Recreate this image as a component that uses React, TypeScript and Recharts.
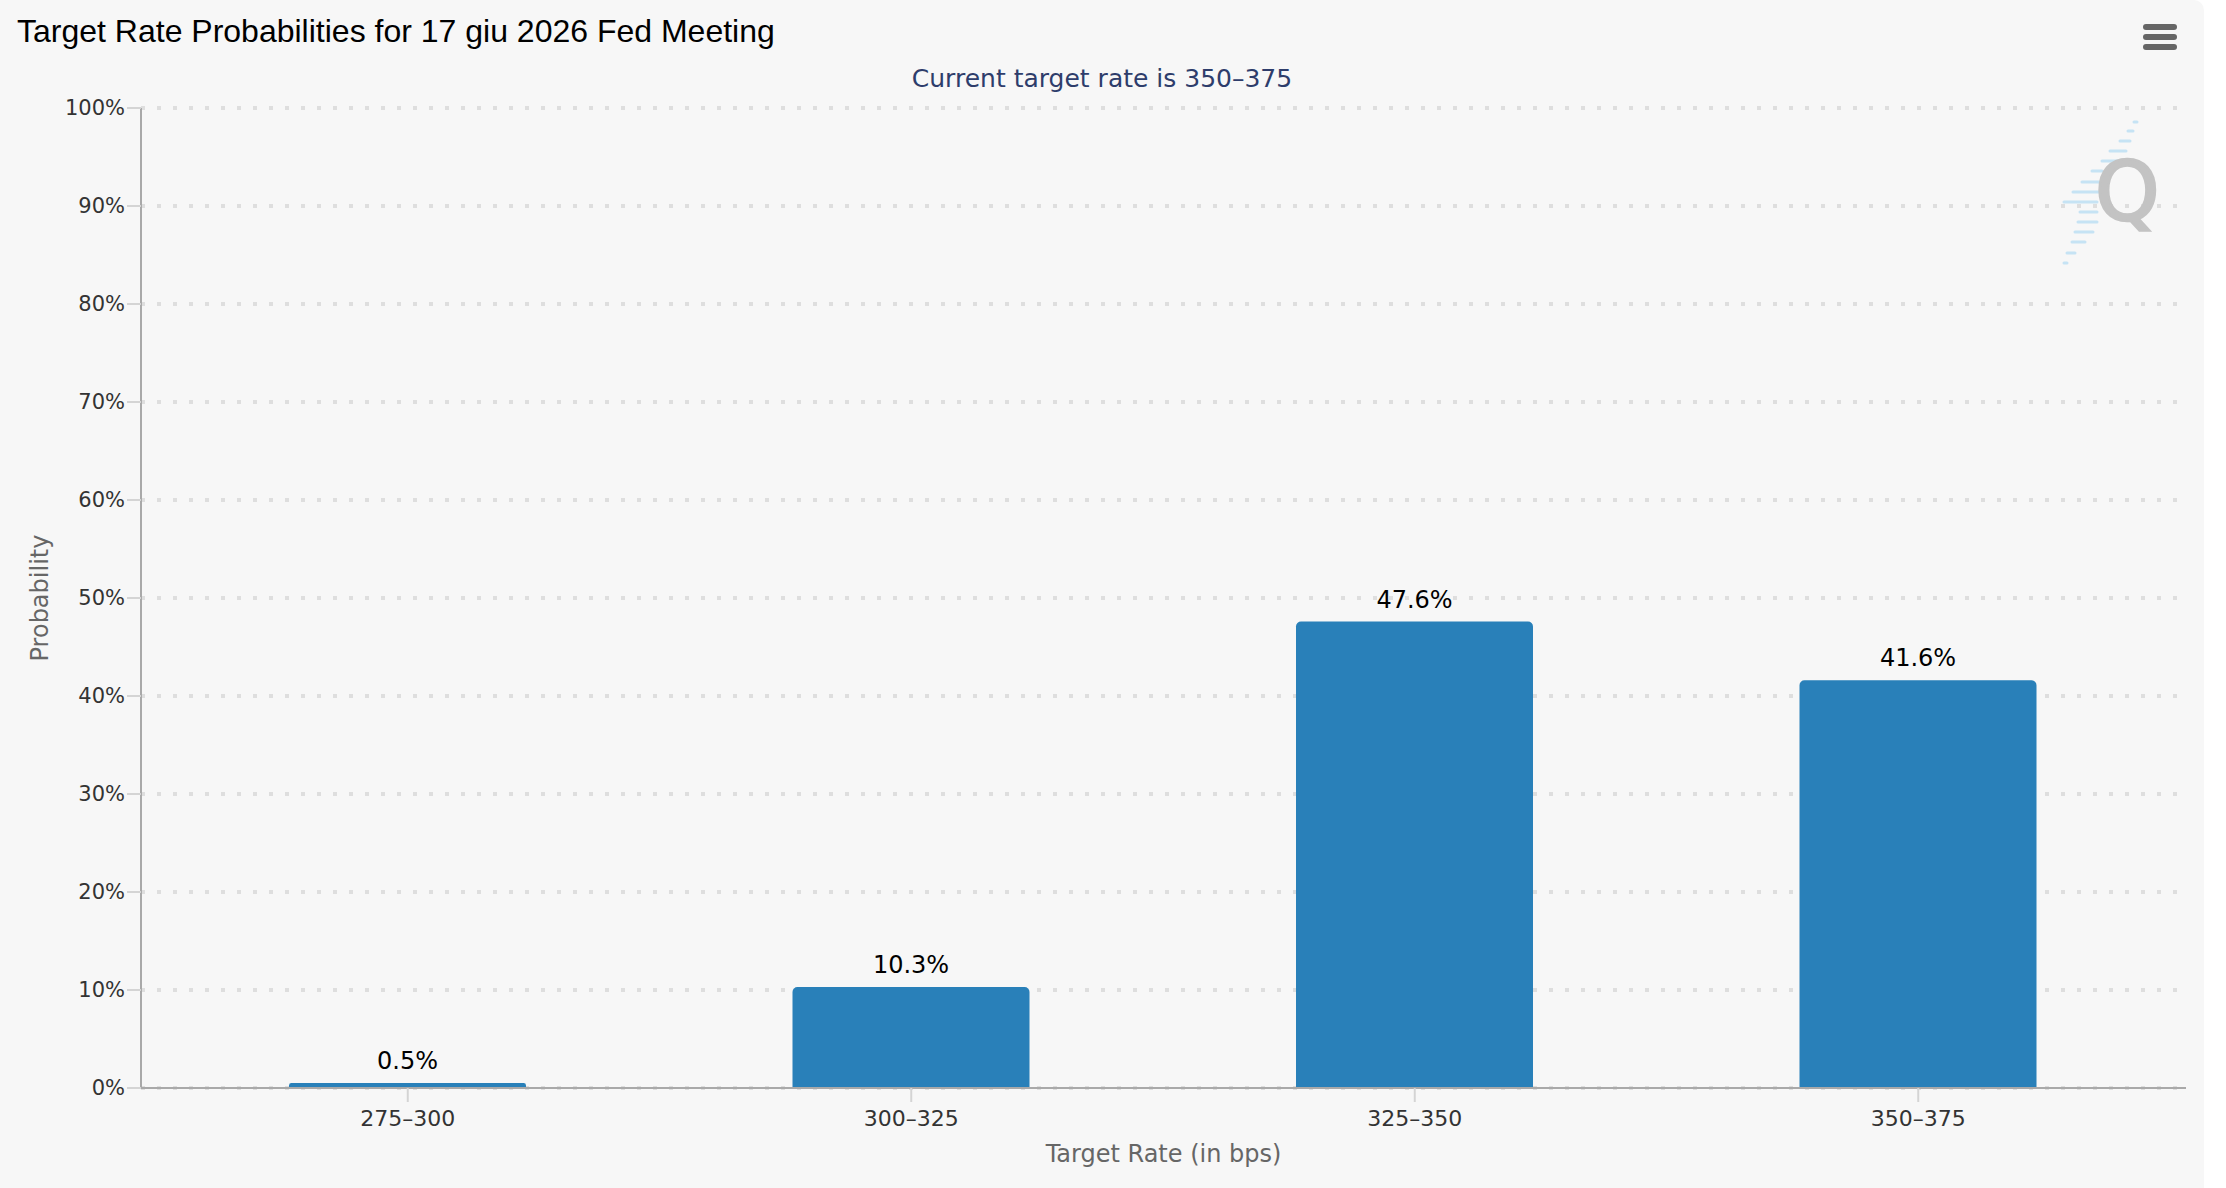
import React from 'react';
import { BarChart, Bar, XAxis, YAxis, CartesianGrid, LabelList } from 'recharts';

// ---- data ----
const categories = ['275–300', '300–325', '325–350', '350–375'];
const probabilities = [0.5, 10.3, 47.6, 41.6];
const yTicks = [0, 10, 20, 30, 40, 50, 60, 70, 80, 90, 100];
const titleText = 'Target Rate Probabilities for 17 giu 2026 Fed Meeting';
const subtitleText = 'Current target rate is 350–375';
const xAxisTitle = 'Target Rate (in bps)';
const yAxisTitle = 'Probability';

const data = categories.map((cat, i) => ({ cat, value: probabilities[i] }));

// ---- look ----
const PAGE_W = 2226;
const PAGE_H = 1188;
const CARD_W = 2204;
const PLOT_RIGHT = 2186;
const PLOT_BOTTOM = 1088;
const FONT = '"DejaVu Sans", "Lucida Grande", Verdana, sans-serif';
const TITLE_FONT = '"Liberation Sans", Arial, Helvetica, sans-serif';

// decorative logo dashes: [y, x1, x2]
const logoDashes: number[][] = [
  [122, 2134, 2137], [131, 2128, 2133], [141, 2120, 2130], [151, 2110, 2126],
  [161, 2102, 2122], [171, 2092, 2102], [182, 2082, 2102], [192, 2073, 2100],
  [202, 2064, 2097], [212, 2080, 2097], [222, 2078, 2097], [232, 2075, 2093],
  [242, 2072, 2085], [253, 2067, 2075], [263, 2064, 2067],
];

const YTitle = (props: any) => {
  const vb = props.viewBox || { y: 108, height: 980 };
  const cx = 40;
  const cy = vb.y + vb.height / 2;
  return (
    <text
      x={cx}
      y={cy}
      transform={`rotate(-90 ${cx} ${cy})`}
      textAnchor="middle"
      dominantBaseline="central"
      fill="#666666"
      fontSize={24}
      fontFamily={FONT}
    >
      {yAxisTitle}
    </text>
  );
};

const XTitle = (props: any) => {
  const vb = props.viewBox || { x: 141, width: 2045, y: PLOT_BOTTOM };
  const cx = vb.x + vb.width / 2;
  return (
    <text
      x={cx}
      y={1162}
      textAnchor="middle"
      fill="#666666"
      fontSize={24}
      fontFamily={FONT}
    >
      {xAxisTitle}
    </text>
  );
};

export default function App() {
  return (
    <div style={{ position: 'absolute', left: 0, top: 0, width: PAGE_W, height: PAGE_H, background: '#ffffff', overflow: 'hidden' }}>
      <div
        style={{
          position: 'absolute',
          left: 0,
          top: 0,
          width: CARD_W,
          height: PAGE_H,
          background: '#f7f7f7',
          borderTopRightRadius: 10,
        }}
      >
        <BarChart
          width={CARD_W}
          height={PAGE_H}
          data={data}
          margin={{ top: 108, right: CARD_W - PLOT_RIGHT, bottom: 0, left: 0 }}
          barSize={237}
        >
          <CartesianGrid
            vertical={false}
            stroke="#dedede"
            strokeWidth={4}
            strokeDasharray="4 12"
          />
          <XAxis
            dataKey="cat"
            interval={0}
            height={PAGE_H - PLOT_BOTTOM}
            padding={{ left: 15, right: 16 }}
            axisLine={{ stroke: '#a9a9a9', strokeWidth: 2 }}
            tickLine={{ stroke: '#d4d4d4', strokeWidth: 2 }}
            tickSize={14}
            tickMargin={8}
            tick={{ fill: '#333333', fontSize: 22, fontFamily: FONT }}
            label={(p: any) => <XTitle {...p} />}
          />
          <YAxis
            width={141}
            domain={[0, 100]}
            ticks={yTicks}
            interval={0}
            tickFormatter={(v: number) => `${v}%`}
            axisLine={{ stroke: '#a9a9a9', strokeWidth: 2 }}
            tickLine={{ stroke: '#d4d4d4', strokeWidth: 2 }}
            tickSize={14}
            tickMargin={2}
            tick={{ fill: '#333333', fontSize: 21, fontFamily: FONT }}
            label={(p: any) => <YTitle {...p} />}
          />
          <Bar dataKey="value" fill="#2980b9" radius={[5, 5, 0, 0]} isAnimationActive={false}>
            <LabelList
              dataKey="value"
              position="top"
              offset={14}
              formatter={(v: any) => `${v}%`}
              fill="#000000"
              fontSize={24}
              fontFamily={FONT}
            />
          </Bar>
        </BarChart>
        <svg
          width={CARD_W}
          height={PAGE_H}
          style={{ position: 'absolute', left: 0, top: 0, pointerEvents: 'none' }}
        >
          <text x={17} y={41.5} fontSize={32} fontFamily={TITLE_FONT} fill="#000000">
            {titleText}
          </text>
          <text x={CARD_W / 2} y={87} textAnchor="middle" fontSize={25} fontFamily={FONT} fill="#2e3d6b">
            {subtitleText}
          </text>
          <g fill="#666666">
            <rect x={2143} y={24} width={34} height={6} rx={3} />
            <rect x={2143} y={34} width={34} height={6} rx={3} />
            <rect x={2143} y={44} width={34} height={6} rx={3} />
          </g>
          <g stroke="#c6e3f4" strokeWidth={3} strokeLinecap="round">
            {logoDashes.map((d, i) => (
              <line key={i} x1={d[1]} y1={d[0]} x2={d[2]} y2={d[0]} />
            ))}
          </g>
          <text
            x={2095}
            y={220}
            fontSize={82}
            fontFamily={FONT}
            fill="#c3c3c3"
            stroke="#c3c3c3"
            strokeWidth={2.5}
          >
            Q
          </text>
        </svg>
      </div>
    </div>
  );
}
